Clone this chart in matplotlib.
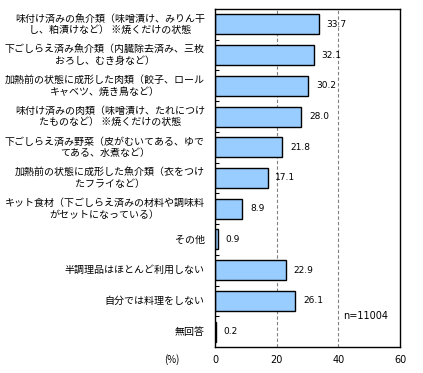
import matplotlib
matplotlib.use('Agg')
import matplotlib.pyplot as plt
import numpy as np

plt.rcParams['font.family'] = ['Noto Sans CJK JP', 'DejaVu Sans']

labels = [
    '味付け済みの魚介類（味噌漬け、みりん干\nし、粕漬けなど） ※焼くだけの状態',
    '下ごしらえ済み魚介類（内臓除去済み、三枚\nおろし、むき身など）',
    '加熱前の状態に成形した肉類（餃子、ロール\nキャベツ、焼き鳥など）',
    '味付け済みの肉類（味噌漬け、たれにつけ\nたものなど） ※焼くだけの状態',
    '下ごしらえ済み野菜（皮がむいてある、ゆで\nてある、水煮など）',
    '加熱前の状態に成形した魚介類（衣をつけ\nたフライなど）',
    'キット食材（下ごしらえ済みの材料や調味料\nがセットになっている）',
    'その他',
    '半調理品はほとんど利用しない',
    '自分では料理をしない',
    '無回答',
]
values = [33.7, 32.1, 30.2, 28.0, 21.8, 17.1, 8.9, 0.9, 22.9, 26.1, 0.2]
xticks = [0, 20, 40, 60]

fig = plt.figure(figsize=(4.23, 3.73), dpi=100)
ax = fig.add_axes([215/423, 26/373, 185/423, 338/373])

y = np.arange(len(values))
ax.barh(y, values, height=0.65, color='#99ccff', edgecolor='black', linewidth=1, zorder=2)
for yi, v in zip(y, values):
    ax.text(v + 2.5, yi, '%.1f' % v, va='center', ha='left', fontsize=6.5,
            family='DejaVu Sans', zorder=3)

for gx in [20, 40]:
    ax.axvline(gx, color='gray', linestyle=(0, (3, 2)), linewidth=0.8, zorder=1)

ax.set_xlim(0, 60)
ax.set_ylim(len(values) - 0.5, -0.5)
ax.set_xticks(xticks)
ax.set_xticklabels([str(t) for t in xticks], fontsize=7, family='DejaVu Sans')
ax.tick_params(axis='x', length=0, pad=6)

ax.set_yticks(y)
ax.set_yticklabels([])
ax.tick_params(axis='y', which='major', length=0)
ax.set_yticks(np.arange(len(values) - 1) + 0.5, minor=True)
ax.tick_params(axis='y', which='minor', direction='in', length=3, width=0.8)

for yi, lab in zip(y, labels):
    ax.text(-0.055, yi, lab, transform=ax.get_yaxis_transform(), ha='right', va='center',
            multialignment='center', fontsize=7.2, linespacing=1.2)

for s in ax.spines.values():
    s.set_linewidth(1)

ax.text(49, 9.5, 'n=11004', fontsize=7, family='DejaVu Sans', va='center', ha='center')
fig.text(172/423, 1 - 360/373, '(%)', fontsize=7, ha='center', va='center')

fig.savefig('out.png', dpi=100)
